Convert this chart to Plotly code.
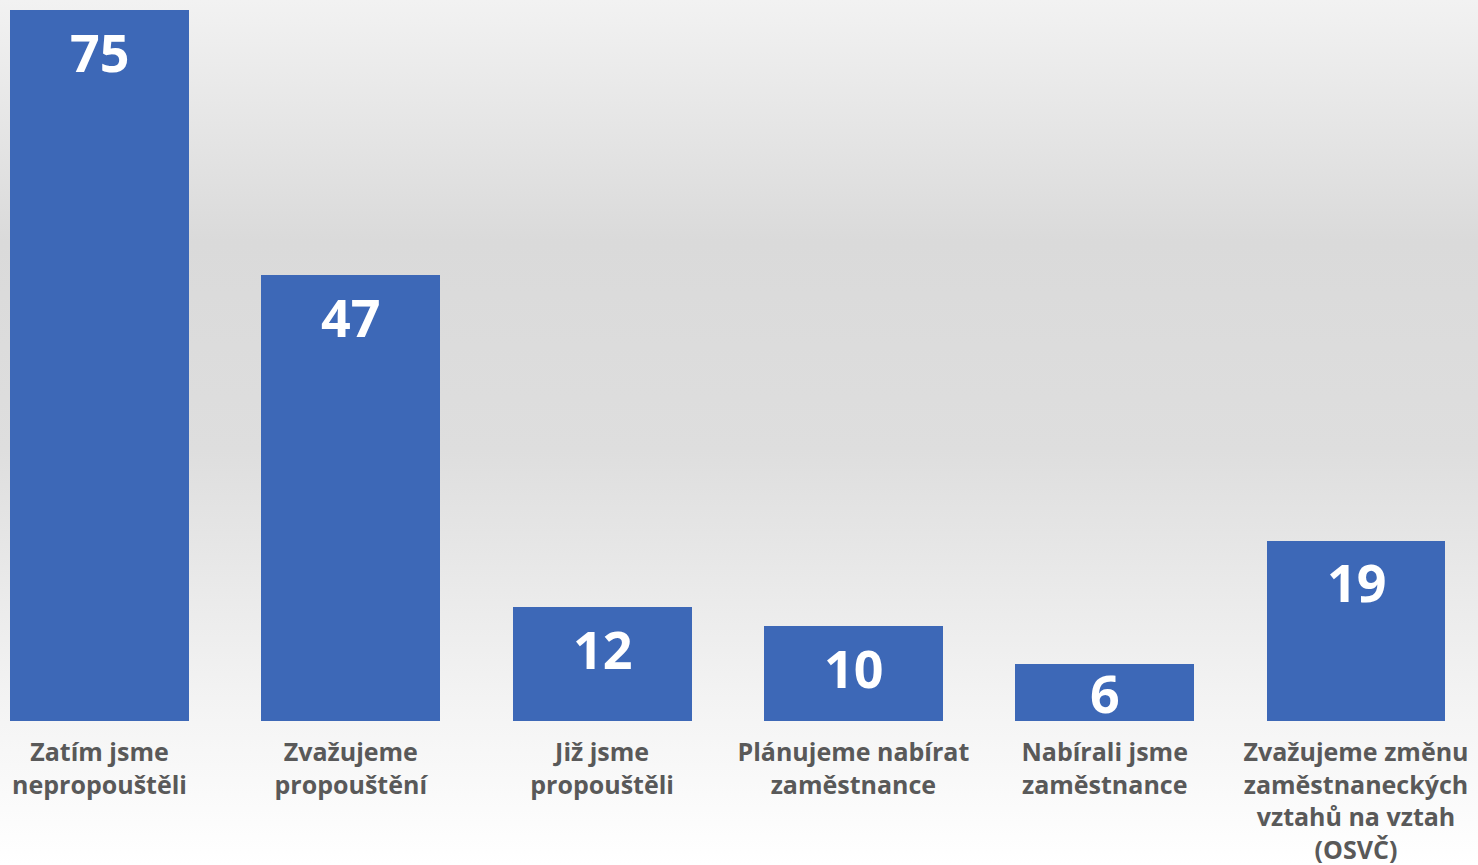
import base64
import plotly.graph_objects as go

categories = [
    "Zatím jsme<br>nepropouštěli",
    "Zvažujeme<br>propouštění",
    "Již jsme<br>propouštěli",
    "Plánujeme nabírat<br>zaměstnance",
    "Nabírali jsme<br>zaměstnance",
    "Zvažujeme změnu<br>zaměstnaneckých<br>vztahů na vztah<br>(OSVČ)",
]
values = [75, 47, 12, 10, 6, 19]
value_labels = [str(v) for v in values]

W, H = 1478, 865
PLOT_H = 721
PX_PER_UNIT = 711 / 75
PX_PER_CAT = 251.3

bg_svg = (
    '<svg xmlns="http://www.w3.org/2000/svg" width="100" height="100" preserveAspectRatio="none">'
    '<defs><linearGradient id="g" x1="0" y1="0" x2="0" y2="1">'
    '<stop offset="0" stop-color="#F2F2F2"/>'
    '<stop offset="0.28" stop-color="#DADADA"/>'
    '<stop offset="0.52" stop-color="#DEDEDE"/>'
    '<stop offset="0.82" stop-color="#F4F4F4"/>'
    '<stop offset="1" stop-color="#FFFFFF"/>'
    '</linearGradient></defs>'
    '<rect width="100" height="100" fill="url(#g)"/></svg>'
)
bg_uri = "data:image/svg+xml;base64," + base64.b64encode(bg_svg.encode()).decode()

fig = go.Figure()
fig.add_trace(go.Bar(
    x=list(range(len(categories))),
    y=values,
    width=0.712,
    marker=dict(color="#3D68B7", line=dict(width=0)),
    hoverinfo="skip",
))

label_offset = 41 / PX_PER_UNIT
for i, (v, t) in enumerate(zip(values, value_labels)):
    fig.add_annotation(
        x=i, y=max(v - label_offset, v / 2), text=t, showarrow=False,
        yanchor="middle",
        font=dict(family="Open Sans", size=52, color="white", weight="bold"),
    )

x0 = -99.5 / PX_PER_CAT
fig.update_layout(
    width=W, height=H,
    margin=dict(l=0, r=0, t=0, b=H - PLOT_H, pad=0, autoexpand=False),
    paper_bgcolor="rgba(0,0,0,0)",
    plot_bgcolor="rgba(0,0,0,0)",
    showlegend=False,
    bargap=0,
    images=[dict(
        source=bg_uri, xref="paper", yref="paper", x=0, y=1,
        sizex=1, sizey=H / PLOT_H, sizing="stretch", layer="below",
        xanchor="left", yanchor="top",
    )],
    xaxis=dict(
        range=[x0, x0 + W / PX_PER_CAT],
        tickmode="array",
        tickvals=list(range(len(categories))),
        ticktext=categories,
        automargin=False,
        showgrid=False, zeroline=False, showline=False, ticks="",
        ticklabelstandoff=14,
        tickfont=dict(family="Open Sans", size=25, color="#595959", weight="bold"),
    ),
    yaxis=dict(
        range=[0, PLOT_H / PX_PER_UNIT],
        automargin=False,
        visible=False, showgrid=False, zeroline=False,
    ),
)

fig.write_html(
    "out.html",
    config={"displayModeBar": False},
    post_script="document.body.style.margin='0';document.body.style.overflow='hidden';",
)
